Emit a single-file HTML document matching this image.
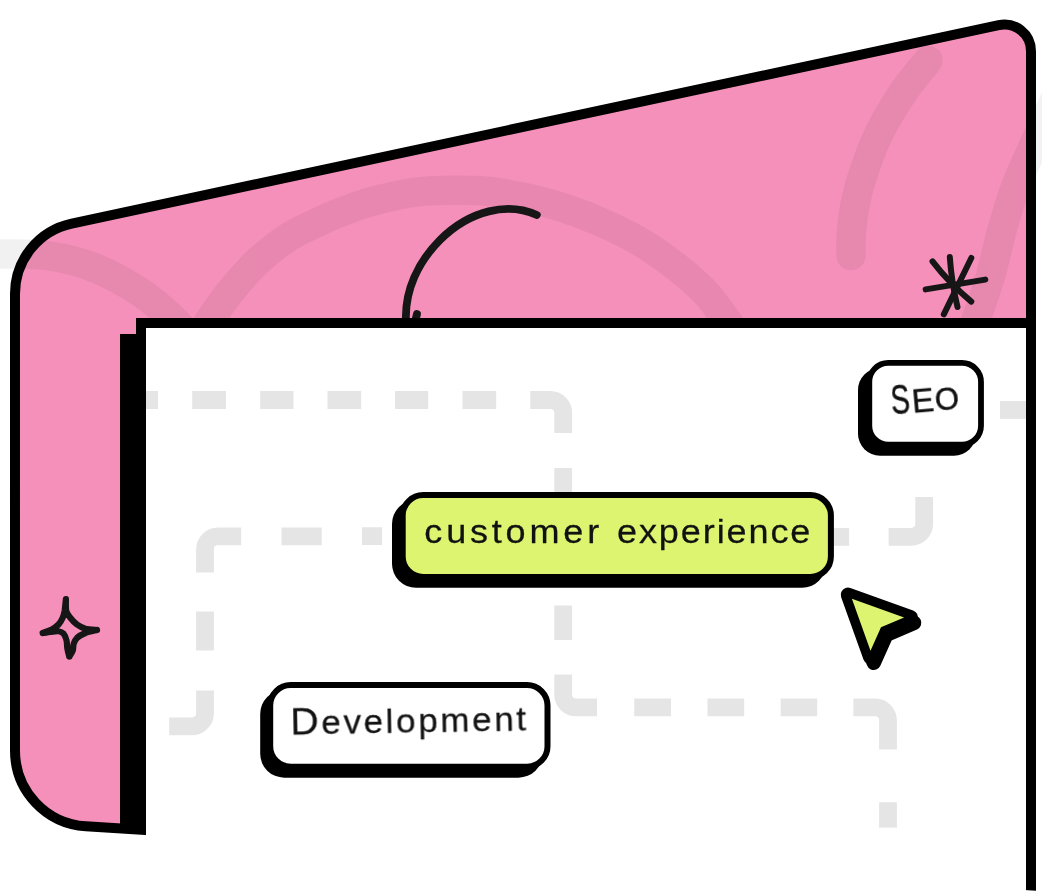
<!DOCTYPE html>
<html lang="en">
<head>
<meta charset="utf-8">
<title>Illustration</title>
<style>
  html, body { margin: 0; padding: 0; background: #ffffff; }
  body { width: 1042px; height: 892px; overflow: hidden; position: relative; }
  svg { position: absolute; left: 0; top: 0; display: block; }
  text { font-family: "Liberation Sans", sans-serif; fill: #111111; }
  .t { will-change: transform; }
</style>
</head>
<body>
<svg width="1042" height="892" viewBox="0 0 1042 892">

  <!-- pink card -->
  <path d="M15.00,293.74 A71.73,71.73 0 0 1 71.71,223.59 L998.73,25.12 A26.68,26.68 0 0 1 1031.00,51.21 L1031.00,885.50 L85.86,826.24 A75.59,75.59 0 0 1 15.00,750.80 Z" fill="#f590ba"/>
  <g opacity="0.05" fill="none" stroke="#000000" stroke-width="29.5" stroke-linecap="round" stroke-linejoin="round">
    <path d="M-40.0,254.0 C-33.3,254.0 -15.0,253.7 0.0,254.0 C15.0,254.3 34.2,253.7 50.0,256.0 C65.8,258.3 80.0,262.0 95.0,268.0 C110.0,274.0 127.2,283.7 140.0,292.0 C152.8,300.3 163.3,310.0 172.0,318.0 C180.7,326.0 188.7,336.3 192.0,340.0"/>
    <path d="M198.0,340.0 C200.3,336.2 206.4,325.4 212.0,317.0 C217.6,308.6 224.1,299.2 231.8,289.8 C239.6,280.4 248.8,269.6 258.5,260.7 C268.2,251.8 279.4,243.0 289.9,236.3 C300.4,229.6 312.9,224.6 321.3,220.6 C329.7,216.6 331.9,215.6 340.0,212.5 C348.1,209.4 358.6,205.2 370.0,202.0 C381.4,198.8 396.8,195.1 408.5,193.2 C420.2,191.3 426.4,190.8 440.0,190.5 C453.6,190.2 471.7,189.3 490.0,191.5 C508.3,193.7 531.7,198.6 550.0,203.7 C568.3,208.8 583.3,214.5 600.0,221.8 C616.7,229.2 633.3,236.9 650.0,247.8 C666.7,258.7 687.5,275.3 700.0,287.0 C712.5,298.7 718.3,309.2 725.0,318.0 C731.7,326.8 737.5,336.3 740.0,340.0"/>
    <path d="M851.0,255.5 C851.0,251.9 850.6,242.4 851.3,234.0 C852.0,225.6 853.3,214.2 855.0,205.0 C856.7,195.8 857.8,190.4 861.5,179.0 C865.2,167.6 870.8,150.7 877.5,136.5 C884.2,122.3 893.6,106.7 902.0,94.0 C910.4,81.3 923.7,66.1 928.0,60.5"/>
    <path d="M970.0,340.0 C971.2,336.2 973.6,327.6 977.0,317.0 C980.4,306.4 986.4,290.3 990.4,276.5 C994.4,262.7 997.1,248.2 1001.0,234.0 C1004.9,219.8 1009.5,204.0 1014.0,191.3 C1018.5,178.6 1024.0,166.9 1028.0,157.8 C1032.0,148.7 1035.0,142.0 1039.5,132.5 C1044.0,123.0 1051.0,108.0 1055.0,99.0"/>
  </g>
  <path d="M15.00,293.74 A71.73,71.73 0 0 1 71.71,223.59 L998.73,25.12 A26.68,26.68 0 0 1 1031.00,51.21 L1031.00,885.50 L85.86,826.24 A75.59,75.59 0 0 1 15.00,750.80 Z" fill="none" stroke="#000000" stroke-width="10" stroke-linejoin="miter"/>

  <!-- decorations on the card -->
  <g fill="none" stroke="#161616" stroke-linecap="round" stroke-linejoin="round">
    <path stroke-width="7.8" d="M405.9,320 C405,290 418,262 440,240 C470,210 508,202 536.8,215"/>
    <path stroke-width="7.8" d="M417,314 L415.5,320"/>
    <g stroke-width="6">
      <path d="M949.8,256.9 Q951.5,282 957.5,307"/>
      <path d="M971.3,258 L943.8,314.4"/>
      <path d="M932.5,261.4 Q949,283 971.3,301.6"/>
      <path d="M925.7,289.4 L985.3,279.6"/>
    </g>
    <path stroke-width="6.2" d="M65.9,599.1 C66.0,601.1 65.5,607.9 66.3,611.0 C67.0,614.1 68.5,615.5 70.3,617.7 C72.1,620.0 74.5,622.6 77.0,624.5 C79.5,626.3 82.1,627.7 85.4,628.7 C88.8,629.6 95.1,629.8 97.0,630.0 M97.0,630.0 C95.1,630.5 88.8,631.7 85.4,633.0 C82.1,634.3 79.0,636.1 77.0,637.9 C75.1,639.7 74.4,641.7 73.7,643.8 C73.0,645.9 73.5,648.4 72.8,650.5 C72.1,652.6 69.9,655.5 69.3,656.6 M69.3,656.6 C69.0,655.3 67.8,651.5 67.4,648.8 C66.9,646.1 67.1,642.9 66.5,640.4 C65.9,637.9 64.9,635.2 63.6,633.7 C62.2,632.2 60.8,631.5 58.5,631.2 C56.3,630.9 52.8,631.7 50.1,632.0 C47.5,632.3 44.0,632.9 42.7,633.0 M42.7,633.0 C44.2,632.4 49.2,630.9 51.8,629.5 C54.4,628.1 56.7,626.4 58.5,624.5 C60.4,622.5 61.7,620.0 62.7,617.7 C63.7,615.5 64.0,614.1 64.6,611.0 C65.1,607.9 65.7,601.1 65.9,599.1"/>
  </g>

  <!-- white panel -->
  <rect x="146" y="328" width="880" height="570" fill="#ffffff"/>
  <path d="M136,318 H1026 V328 H146 V832 H120 V334 H136 Z" fill="#000000"/>

  <!-- dashed guide lines -->
  <g fill="none" stroke="#e5e5e5" stroke-width="17.8">
    <path d="M146,400 H158 M192.2,400 H226 M260.2,400 H293.5 M327.5,400 H361.2 M395,400 H428.2 M462.5,400 H496.2"/>
    <path d="M530.2,400 H550.2 A13,13 0 0 1 563.2,413 V433"/>
    <path d="M563.2,468 V500 M563.2,605.5 V640"/>
    <path d="M563.2,674.5 V694.4 A13,13 0 0 0 576.2,707.4 H597"/>
    <path d="M634.2,707.4 H671 M707.5,707.4 H744.2 M780.7,707.4 H817.2"/>
    <path d="M853.4,707.4 H875 A13,13 0 0 1 888,720.4 V749.6"/>
    <path d="M888,802.2 V827.6"/>
    <path d="M169.2,726.3 H192 A13,13 0 0 0 205,713.3 V690.5"/>
    <path d="M205,650.5 V611.5"/>
    <path d="M205,572.5 V549.4 A13,13 0 0 1 218,536.4 H241.2"/>
    <path d="M281.5,536.4 H321.7 M362,536.2 H382.1 M830,536.8 H849.1"/>
    <path d="M888.6,536.8 H911.2 A13,13 0 0 0 924.2,523.8 V497"/>
    <path d="M1000,410 H1026"/>
  </g>

  <!-- tags -->
  <g>
    <rect x="858" y="368" width="118" height="87.7" rx="22" fill="#000000"/>
    <rect x="869.3" y="362.9" width="111.7" height="81.8" rx="19" fill="#ffffff" stroke="#000000" stroke-width="5.8"/>
    <g class="t" transform="translate(892 414.6) rotate(-5)" stroke="#111111" stroke-width="0.5" stroke-linejoin="round"><text x="0" y="0"><tspan font-size="42" textLength="19" lengthAdjust="spacingAndGlyphs">S</tspan><tspan font-size="33" dx="2">E</tspan><tspan font-size="31" dx="1">O</tspan></text></g>
  </g>
  <g>
    <rect x="392" y="500" width="434" height="87.8" rx="24" fill="#000000"/>
    <rect x="402.7" y="495" width="428.2" height="82" rx="20.5" fill="#dcf46f" stroke="#000000" stroke-width="6"/>
    <g class="t" transform="translate(424.3 543.3) scale(1.06 1)" stroke="#111111" stroke-width="0.25" stroke-linejoin="round"><text x="0" y="0" font-size="34"><tspan letter-spacing="3.6">customer </tspan><tspan x="181.8" letter-spacing="1.8">experience</tspan></text></g>
  </g>
  <g>
    <rect x="260.2" y="690" width="282.3" height="87.7" rx="24" fill="#000000"/>
    <rect x="270.2" y="685" width="277.3" height="81.7" rx="20.5" fill="#ffffff" stroke="#000000" stroke-width="6"/>
    <g class="t" transform="translate(290.6 734.5) rotate(-1) scale(1.06 1)" stroke="#111111" stroke-width="0.25" stroke-linejoin="round"><text x="0" y="0" font-size="33" letter-spacing="2.5"><tspan font-size="37">D</tspan>evelopment</text></g>
  </g>

  <!-- cursor -->
  <g stroke-linejoin="round">
    <path d="M847.93,594.73 L910.66,617.20 L882.81,629.14 L870.25,657.12 Z" transform="translate(3.5,5.7)" fill="#000000" stroke="#000000" stroke-width="14.4"/>
    <path d="M847.93,594.73 L910.66,617.20 L882.81,629.14 L870.25,657.12 Z" fill="#000000" stroke="#000000" stroke-width="14.4"/>
    <path d="M851.9,598.7 L904.1,617.4 L881,627.3 L870.5,650.7 Z" fill="#dcf46f"/>
  </g>
</svg>
</body>
</html>
